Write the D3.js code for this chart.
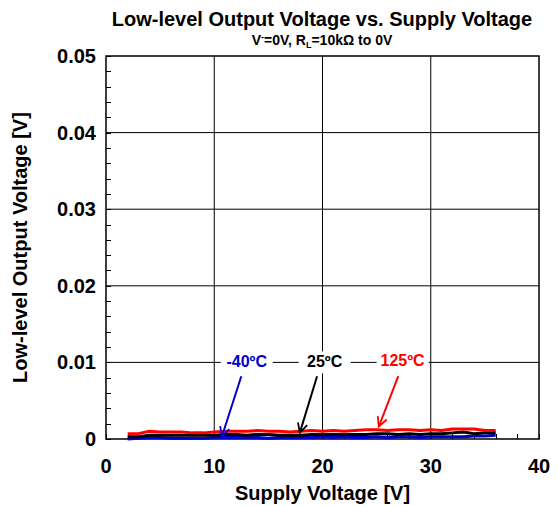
<!DOCTYPE html>
<html>
<head>
<meta charset="utf-8">
<script src="https://cdn.jsdelivr.net/npm/d3@7"></script>
<style>
  body { margin: 0; background: #fff; }
  text { font-family: Arial, "Liberation Sans", sans-serif; font-weight: bold; }
</style>
</head>
<body>
<div id="chart"></div>
<script>
(function(d3) {
  'use strict';

  var supply = [2, 3, 4, 5, 6, 7, 8, 9, 10, 11, 12, 13, 14, 15, 16, 17, 18, 19, 20,
    21, 22, 23, 24, 25, 26, 27, 28, 29, 30, 31, 32, 33, 34, 35, 36];
  var vRed = [0.0007, 0.0007, 0.001, 0.0009, 0.0009, 0.0009, 0.0008, 0.0008, 0.0009, 0.001,
    0.001, 0.001, 0.0011, 0.001, 0.001, 0.0009, 0.001, 0.0011, 0.001, 0.0011,
    0.001, 0.0011, 0.0012, 0.0012, 0.0011, 0.0012, 0.0012, 0.0011, 0.0012, 0.0011,
    0.0013, 0.0013, 0.0013, 0.0011, 0.0011];
  var vBlack = [0.0003, 0.0003, 0.0005, 0.0005, 0.0005, 0.0005, 0.0005, 0.0005, 0.0005, 0.0006,
    0.0006, 0.0005, 0.0006, 0.0006, 0.0005, 0.0005, 0.0005, 0.0006, 0.0006, 0.0006,
    0.0006, 0.0006, 0.0006, 0.0007, 0.0007, 0.0006, 0.0007, 0.0006, 0.0007, 0.0007,
    0.0008, 0.0009, 0.0007, 0.0008, 0.0008];
  var vBlue = [0.0, 0.0001, 0.0002, 0.0002, 0.0001, 0.0001, 0.0001, 0.0001, 0.0002, 0.0002,
    0.0002, 0.0002, 0.0002, 0.0001, 0.0002, 0.0002, 0.0002, 0.0002, 0.0003, 0.0002,
    0.0003, 0.0002, 0.0002, 0.0003, 0.0002, 0.0003, 0.0003, 0.0002, 0.0003, 0.0003,
    0.0003, 0.0003, 0.0004, 0.0004, 0.0005];
  var xTicks = [0, 10, 20, 30, 40];
  var yTicks = [0, 0.01, 0.02, 0.03, 0.04, 0.05];

  var series = [
    { name: '-40ºC', color: '#0000cc', values: vBlue },
    { name: '25ºC', color: '#000000', values: vBlack },
    { name: '125ºC', color: '#ff0000', values: vRed }
  ];

  var width = 558, height = 506;
  var margin = { left: 106, right: 19, top: 56, bottom: 67 };

  var svg = d3.select('#chart').append('svg')
    .attr('width', width)
    .attr('height', height);

  var x = d3.scaleLinear().domain([0, 40]).range([margin.left, width - margin.right]);
  var y = d3.scaleLinear().domain([0, 0.05]).range([height - margin.bottom, margin.top]);

  // grid
  svg.append('g').selectAll('line')
    .data(xTicks.slice(1, -1))
    .enter().append('line')
    .attr('x1', function(d) { return x(d); }).attr('x2', function(d) { return x(d); })
    .attr('y1', y(0)).attr('y2', y(0.05))
    .attr('stroke', '#000').attr('stroke-width', 1);
  svg.append('g').selectAll('line')
    .data(yTicks.slice(1, -1))
    .enter().append('line')
    .attr('x1', x(0)).attr('x2', x(40))
    .attr('y1', function(d) { return y(d); }).attr('y2', function(d) { return y(d); })
    .attr('stroke', '#000').attr('stroke-width', 1);

  // minor ticks inside
  svg.append('g').selectAll('line')
    .data(d3.range(0, 0.0501, 0.002))
    .enter().append('line')
    .attr('x1', x(0)).attr('x2', x(0) + 5)
    .attr('y1', function(d) { return Math.round(y(d)) + 0.5; })
    .attr('y2', function(d) { return Math.round(y(d)) + 0.5; })
    .attr('stroke', '#000');
  svg.append('g').selectAll('line')
    .data(d3.range(0, 40.1, 2))
    .enter().append('line')
    .attr('x1', function(d) { return Math.round(x(d)) + 0.5; })
    .attr('x2', function(d) { return Math.round(x(d)) + 0.5; })
    .attr('y1', y(0)).attr('y2', y(0) - 5)
    .attr('stroke', '#000');

  // frame
  svg.append('rect')
    .attr('x', x(0)).attr('y', y(0.05))
    .attr('width', x(40) - x(0)).attr('height', y(0) - y(0.05))
    .attr('fill', 'none').attr('stroke', '#000').attr('stroke-width', 1.5);

  // axis labels
  svg.append('g').selectAll('text')
    .data(xTicks).enter().append('text')
    .attr('x', function(d) { return x(d); })
    .attr('y', 473)
    .attr('text-anchor', 'middle')
    .attr('font-size', 20)
    .text(function(d) { return d; });
  svg.append('g').selectAll('text')
    .data(yTicks).enter().append('text')
    .attr('x', 96)
    .attr('y', function(d) { return y(d) + 7; })
    .attr('text-anchor', 'end')
    .attr('font-size', 20)
    .text(function(d) { return d === 0 ? '0' : d3.format('.2f')(d); });

  svg.append('text')
    .attr('x', x(20)).attr('y', 500)
    .attr('text-anchor', 'middle').attr('font-size', 20)
    .text('Supply Voltage [V]');
  svg.append('text')
    .attr('transform', 'translate(27,' + y(0.025) + ') rotate(-90)')
    .attr('text-anchor', 'middle').attr('font-size', 20)
    .text('Low-level Output Voltage [V]');

  // title
  svg.append('text')
    .attr('x', 322).attr('y', 26)
    .attr('text-anchor', 'middle').attr('font-size', 20)
    .text('Low-level Output Voltage vs. Supply Voltage');
  var sub = svg.append('text')
    .attr('x', 322).attr('y', 45)
    .attr('text-anchor', 'middle').attr('font-size', 14);
  sub.append('tspan').text('V');
  sub.append('tspan').attr('dy', -5).attr('font-size', 9).text('-');
  sub.append('tspan').attr('dy', 5).text('=0V, R');
  sub.append('tspan').attr('dy', 3).attr('font-size', 9).text('L');
  sub.append('tspan').attr('dy', -3).text('=10kΩ to 0V');

  // lines
  var line = d3.line()
    .x(function(d, i) { return x(supply[i]); })
    .y(function(d) { return y(d); });

  svg.append('g').selectAll('path')
    .data(series).enter().append('path')
    .attr('d', function(s) { return line(s.values); })
    .attr('fill', 'none')
    .attr('stroke', function(s) { return s.color; })
    .attr('stroke-width', 3)
    .attr('stroke-linejoin', 'round');

  // annotations
  var notes = [
    { text: '-40ºC', color: '#0000cc', lx: 13.0, ly: 0.01, ax: 12.5, ay: 0.0082, tx: 10.7, ty: 0.0003 },
    { text: '25ºC', color: '#000000', lx: 20.2, ly: 0.01, ax: 19.5, ay: 0.0082, tx: 17.9, ty: 0.0008 },
    { text: '125ºC', color: '#ff0000', lx: 27.4, ly: 0.0102, ax: 27.0, ay: 0.0082, tx: 25.2, ty: 0.0016 }
  ];

  var defs = svg.append('defs');
  notes.forEach(function(n, i) {
    defs.append('marker')
      .attr('id', 'arr' + i)
      .attr('viewBox', '0 0 10 10')
      .attr('refX', 9).attr('refY', 5)
      .attr('markerWidth', 6).attr('markerHeight', 6)
      .attr('markerUnits', 'strokeWidth')
      .attr('orient', 'auto')
      .append('path')
      .attr('d', 'M1,1 L9,5 L1,9')
      .attr('fill', 'none')
      .attr('stroke', n.color)
      .attr('stroke-width', 1.5);
  });

  var note = svg.append('g').selectAll('g')
    .data(notes).enter().append('g');
  note.append('line')
    .attr('x1', function(n) { return x(n.ax); })
    .attr('y1', function(n) { return y(n.ay); })
    .attr('x2', function(n) { return x(n.tx); })
    .attr('y2', function(n) { return y(n.ty); })
    .attr('stroke', function(n) { return n.color; })
    .attr('stroke-width', 2)
    .attr('marker-end', function(n, i) { return 'url(#arr' + i + ')'; });
  note.append('rect')
    .attr('x', function(n) { return x(n.lx) - 26; })
    .attr('y', function(n) { return y(n.ly) - 11; })
    .attr('width', 52).attr('height', 22)
    .attr('fill', '#fff');
  note.append('text')
    .attr('x', function(n) { return x(n.lx); })
    .attr('y', function(n) { return y(n.ly) + 5; })
    .attr('text-anchor', 'middle')
    .attr('font-size', 16)
    .attr('fill', function(n) { return n.color; })
    .text(function(n) { return n.text; });

})(window.d3);
</script>
</body>
</html>
